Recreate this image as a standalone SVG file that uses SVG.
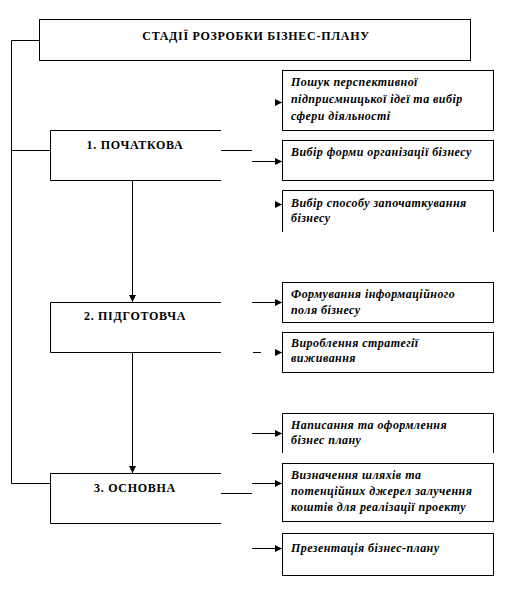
<svg xmlns="http://www.w3.org/2000/svg" width="525" height="596" viewBox="0 0 525 596">
<defs>
<style>
.ln{stroke:#000;stroke-width:1;fill:none}
.bx{stroke:#000;stroke-width:1;fill:#fff}
.t{font-weight:bold;font-size:12px;fill:#000;letter-spacing:0.7px}
.i{font-weight:bold;font-style:italic;font-size:12px;fill:#000;letter-spacing:0.45px}
</style>
<marker id="ah" viewBox="0 0 8 8" refX="8" refY="4" markerWidth="7" markerHeight="7" markerUnits="userSpaceOnUse" orient="auto">
<path d="M0,0 L8,4 L0,8 Z" fill="#000"/>
</marker>
</defs>
<rect width="525" height="596" fill="#fff"/>
<g font-family="Liberation Serif, DejaVu Serif, serif">
<g id="title">
<rect class="bx" x="39.5" y="19.5" width="431" height="41"/>
<text class="t" x="256" y="40" text-anchor="middle">СТАДІЇ РОЗРОБКИ БІЗНЕС-ПЛАНУ</text>
</g>
<g id="stage1">
<path class="ln" d="M221,130.5 H50.5 V180.5 H221"/>
<text class="t" x="135" y="149" text-anchor="middle">1. ПОЧАТКОВА</text>
</g>
<g id="stage2">
<path class="ln" d="M221,302.5 H50.5 V352.5 H221"/>
<text class="t" x="135" y="320" text-anchor="middle">2. ПІДГОТОВЧА</text>
</g>
<g id="stage3">
<path class="ln" d="M221,473.5 H50.5 V523.5 H221"/>
<text class="t" x="135" y="492" text-anchor="middle">3. ОСНОВНА</text>
</g>
<g id="r1">
<rect class="bx" x="282.5" y="70.5" width="211" height="60"/>
<text class="i" x="291" y="86">Пошук перспективної</text>
<text class="i" x="291" y="103">підприємницької ідеї та вибір</text>
<text class="i" x="291" y="120">сфери діяльності</text>
</g>
<g id="r2">
<rect class="bx" x="282.5" y="140.5" width="211" height="40"/>
<text class="i" x="291" y="156">Вибір форми організації бізнесу</text>
</g>
<g id="r3">
<path class="ln" d="M282.5,232 V190.5 H493.5 V232"/>
<text class="i" x="291" y="207">Вибір способу започаткування</text>
<text class="i" x="291" y="222">бізнесу</text>
</g>
<g id="r4">
<rect class="bx" x="282.5" y="282.5" width="211" height="40"/>
<text class="i" x="291" y="298">Формування інформаційного</text>
<text class="i" x="291" y="314">поля бізнесу</text>
</g>
<g id="r5">
<rect class="bx" x="282.5" y="332.5" width="211" height="40"/>
<text class="i" x="291" y="347">Вироблення стратегії</text>
<text class="i" x="291" y="362">виживання</text>
</g>
<g id="r6">
<path class="ln" d="M282.5,453 V413.5 H493.5 V453"/>
<text class="i" x="291" y="429">Написання та оформлення</text>
<text class="i" x="291" y="444">бізнес плану</text>
</g>
<g id="r7">
<rect class="bx" x="282.5" y="463.5" width="211" height="58"/>
<text class="i" x="291" y="479">Визначення шляхів та</text>
<text class="i" x="291" y="495">потенційних джерел залучення</text>
<text class="i" x="291" y="511">коштів для реалізації проекту</text>
</g>
<g id="r8">
<rect class="bx" x="282.5" y="533.5" width="211" height="42"/>
<text class="i" x="291" y="552">Презентація бізнес-плану</text>
</g>
</g>
<g id="connectors">
<path class="ln" d="M39,40.5 H11.5 V483.5 H50"/>
<path class="ln" d="M11.5,150.5 H50"/>
<path class="ln" d="M132.5,181 V302" marker-end="url(#ah)"/>
<path class="ln" d="M132.5,353 V473" marker-end="url(#ah)"/>
<path class="ln" d="M221,150.5 H252"/>
<path class="ln" d="M276,102.5 H282" marker-end="url(#ah)"/>
<path class="ln" d="M252,161.5 H282" marker-end="url(#ah)"/>
<path class="ln" d="M276,204.5 H282" marker-end="url(#ah)"/>
<path class="ln" d="M252,302.5 H282" marker-end="url(#ah)"/>
<path class="ln" d="M253,352.5 H261"/>
<path class="ln" d="M275,352.5 H282" marker-end="url(#ah)"/>
<path class="ln" d="M252,433.5 H282" marker-end="url(#ah)"/>
<path class="ln" d="M221,493.5 H252"/>
<path class="ln" d="M252,483.5 H282" marker-end="url(#ah)"/>
<path class="ln" d="M252,548.5 H282" marker-end="url(#ah)"/>
</g>
</svg>
